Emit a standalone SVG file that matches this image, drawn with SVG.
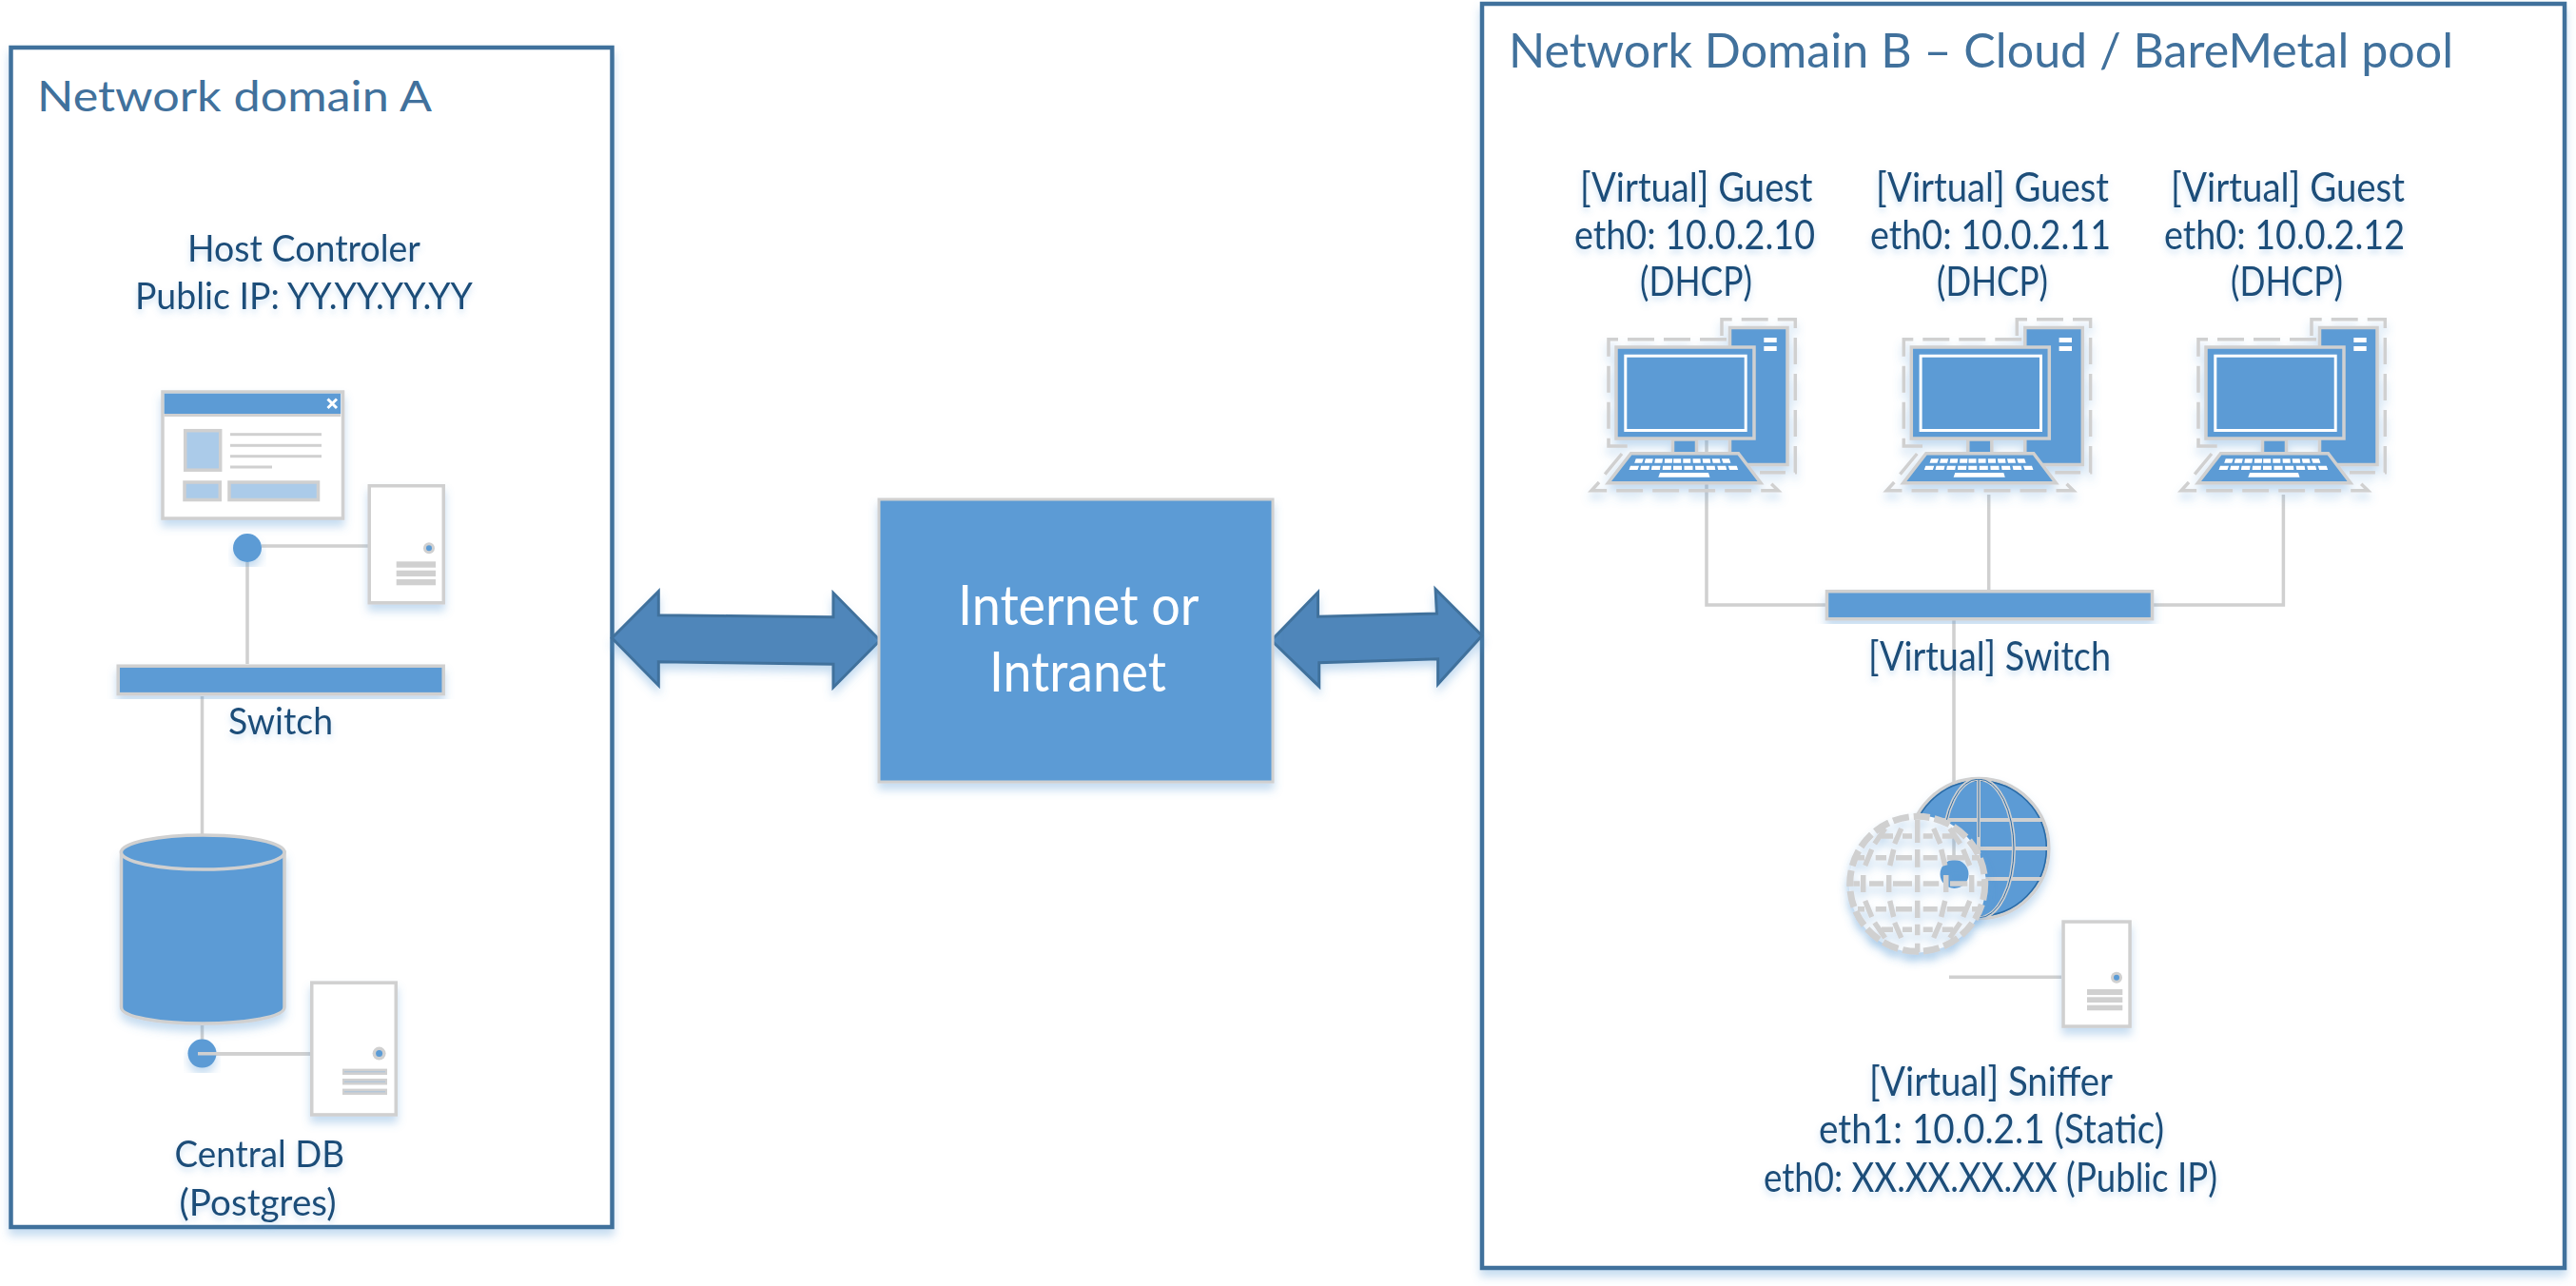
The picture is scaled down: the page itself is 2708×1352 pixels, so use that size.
<svg xmlns="http://www.w3.org/2000/svg" xmlns:xlink="http://www.w3.org/1999/xlink" width="2708" height="1352" viewBox="0 0 2708 1352">
<style>
text{font-family:"Lato","Carlito","Liberation Sans",sans-serif;text-anchor:start}
.lbl{font-size:38px;fill:#1f4e79;filter:url(#ts)}
.lr{font-size:42px;fill:#1f4e79;filter:url(#ts)}
.ttl{font-size:45px;fill:#41719c}
.ttb{font-size:51px;fill:#41719c}
.big{font-size:58px;fill:#fff;font-weight:400}
.dom{fill:#fff;stroke:#41719c;stroke-width:4.5;filter:url(#sh)}
.gl{fill:none;stroke:#d0d0d0;stroke-width:3.5}
.gb{fill:#5b9bd5;stroke:#d0d0d0;stroke-width:3.5}
.gw{fill:#fff;stroke:#d0d0d0;stroke-width:3.5}
.gm{fill:#abcbe9;stroke:#d0d0d0;stroke-width:3.5}
.bar{fill:#d0d0d0}
.blue{fill:#5b9bd5}
.dash{fill:none;stroke:#d0d0d0;stroke-width:3.5;stroke-dasharray:28 10}
.arrow{fill:#4f86ba;stroke:#41719c;stroke-width:3;stroke-linejoin:miter;filter:url(#sh)}
.sh{filter:url(#sh)}
</style>
<defs>
<filter id="sh" x="-15%" y="-15%" width="130%" height="130%"><feDropShadow dx="0" dy="7" stdDeviation="5" flood-color="#5b9bd5" flood-opacity="0.35"/></filter>
<filter id="ts" x="-10%" y="-30%" width="120%" height="170%"><feDropShadow dx="0" dy="4" stdDeviation="3" flood-color="#5b9bd5" flood-opacity="0.3"/></filter>
<g id="computer">
<path class="dash" d="M210,33V15.7H287.3V176.7H250"/>
<path class="dash" d="M215,36.7H91V149H113"/>
<path class="dash" d="M105,157L86,180"/>
<path class="dash" d="M81,187L73,195.7H269.3L260,186.7"/>
<rect class="gb" x="218.5" y="24.5" width="60.5" height="144"/>
<rect x="254.3" y="35" width="13.4" height="5" fill="#fff"/>
<rect x="254.3" y="44" width="13.4" height="5" fill="#fff"/>
<rect class="gb" x="158.5" y="142" width="25" height="16"/>
<rect class="gb" x="99" y="45" width="145" height="96"/>
<rect x="108.8" y="54.2" width="126.4" height="78.3" fill="#5b9bd5" stroke="#fff" stroke-width="3"/>
<path class="gb" d="M114.5,156.8H227.5L251,187.8H90.5Z"/>
<path fill="#fff" d="M119.7,162.3h8l-1.5,4.4h-8zM129.8,162.3h8l-1,4.4h-8zM140,162.3h8l-.7,4.4h-8zM150.1,162.3h8l-.3,4.4h-8zM159.2,162.3h8v4.4h-8zM169.3,162.3h8v4.4h-8zM179.5,162.3h8l.3,4.4h-8zM189.6,162.3h8l.7,4.4h-8zM199.7,162.3h8l1,4.4h-8zM209.9,162.3h8l1.5,4.4h-8z"/>
<path fill="#fff" d="M114,169.7h9l-1.5,4.3h-9zM125.2,169.7h9l-1,4.3h-9zM136.6,169.7h9l-.7,4.3h-9zM148,169.7h9l-.3,4.3h-9zM159,169.7h9v4.3h-9zM170.5,169.7h9v4.3h-9zM182,169.7h9l.3,4.3h-9zM193.6,169.7h9l.7,4.3h-9zM205.2,169.7h9l1,4.3h-9zM216.7,169.7h9l1.5,4.3h-9z"/>
<path fill="#fff" d="M145,177H196L197.5,181.7H143.3Z"/>
</g>
<clipPath id="gc"><circle cx="2080.3" cy="892" r="73"/></clipPath>
</defs>
<rect width="2708" height="1352" fill="#fff"/>

<g id="domain-a">
<rect class="dom" x="11.5" y="50" width="632" height="1240"/>
<text class="ttl" x="39" y="117" textLength="415" lengthAdjust="spacingAndGlyphs">Network domain A</text>
</g>
<g id="domain-b">
<rect class="dom" x="1558" y="4" width="1138" height="1329"/>
<text class="ttb" x="1586" y="71" textLength="993" lengthAdjust="spacingAndGlyphs">Network Domain B – Cloud / BareMetal pool</text>
</g>

<g id="connectors">
<path class="gl" d="M275,574H388M260,591V698M212.5,732V877M212.5,1078V1094M208,1108H327"/>
<path class="gl" d="M1794,463V636H1919M2264,636H2400.4V520M2090.7,520V620M2054,652V830M2049,1027.3H2167"/>
<path class="arrow" d="M643.3,670.7L692.3,621.7V646.7L876,648.7V623.3L925,673.3L876,722.7V698.3L692.3,695.7V720.7Z"/>
<path class="arrow" d="M1336.5,673.3L1385.5,622.7V648.3L1510.4,645L1509,619.3L1558,668.3L1511.6,719.3V692.7L1386.7,696.7V721.7Z"/>
</g>

<g id="host-controller">
<text class="lbl" x="197" y="275" textLength="245" lengthAdjust="spacingAndGlyphs">Host Controler</text>
<text class="lbl" x="142" y="325" textLength="355" lengthAdjust="spacingAndGlyphs">Public IP: YY.YY.YY.YY</text>
<g class="sh">
<rect class="gw" x="171" y="412" width="189.5" height="133"/>
<rect class="blue" x="172.7" y="413.7" width="185.5" height="21.3"/>
<rect class="bar" x="172.7" y="435" width="185.5" height="3"/>
<path d="M344.5,419.5L354,429M354,419.5L344.5,429" stroke="#fff" stroke-width="3" fill="none"/>
<rect class="gm" x="194.7" y="452.7" width="37" height="41.5"/>
<rect class="bar" x="242" y="455.2" width="96" height="3"/>
<rect class="bar" x="242" y="466.8" width="96" height="3"/>
<rect class="bar" x="242" y="478.2" width="96" height="3"/>
<rect class="bar" x="242" y="489.5" width="44" height="3"/>
<rect class="gm" x="194" y="507" width="37.3" height="18.5"/>
<rect class="gm" x="241" y="507" width="93.5" height="18.5"/>
</g>
<circle class="blue sh" cx="260" cy="576" r="15"/>
<g class="sh" transform="translate(386.5,509)"><rect class="gw" x="1.75" y="1.75" width="78" height="123"/></g>
<circle cx="451" cy="576.3" r="6" fill="#d0d0d0"/><circle class="blue" cx="451" cy="576.3" r="3"/>
<rect class="bar" x="416.7" y="590.3" width="41.3" height="6.4"/>
<rect class="bar" x="416.7" y="599.7" width="41.3" height="6.3"/>
<rect class="bar" x="416.7" y="609" width="41.3" height="6.3"/>
</g>

<g id="switch-a">
<rect class="gb sh" x="124.2" y="700.2" width="342" height="29.4"/>
<text class="lbl" x="240" y="772" textLength="110" lengthAdjust="spacingAndGlyphs">Switch</text>
</g>

<g id="central-db">
<path class="gb sh" d="M127.5,896V1059C127.5,1069 166,1076 213,1076S299,1069 299,1059V896Z"/>
<ellipse class="gb" cx="213.2" cy="896" rx="85.8" ry="18"/>
<circle class="blue sh" cx="212.5" cy="1107.6" r="15"/>
<rect class="bar" x="208" y="1106" width="120" height="3.5"/>
<g class="sh" transform="translate(326,1031.4)"><rect class="gw" x="1.75" y="1.75" width="88.5" height="138.8"/></g>
<circle cx="398.6" cy="1107.6" r="7" fill="#d0d0d0"/><circle class="blue" cx="398.6" cy="1107.6" r="3.5"/>
<rect class="bar" x="360" y="1123.6" width="47" height="6.4"/>
<rect class="bar" x="360" y="1134" width="47" height="6.5"/>
<rect class="bar" x="360" y="1144.6" width="47" height="6.4"/>
<path d="M362,1126.8H405M362,1137.2H405M362,1147.8H405" stroke="#a9c3dc" stroke-width="1" fill="none"/>
<text class="lbl" x="183.5" y="1227" textLength="178.5" lengthAdjust="spacingAndGlyphs">Central DB</text>
<text class="lbl" x="188.5" y="1277.5" textLength="165" lengthAdjust="spacingAndGlyphs">(Postgres)</text>
</g>

<g id="internet">
<rect class="sh" x="924" y="525" width="414" height="297" fill="#5b9bd5" stroke="#d0d0d0" stroke-width="3"/>
<text class="big" x="1007" y="656.5" textLength="253.5" lengthAdjust="spacingAndGlyphs">Internet or</text>
<text class="big" x="1040" y="726.5" textLength="186" lengthAdjust="spacingAndGlyphs">Intranet</text>
</g>

<g id="guest-1">
<text class="lr" x="1661" y="212" textLength="244.5" lengthAdjust="spacingAndGlyphs">[Virtual] Guest</text>
<text class="lr" x="1655" y="261.5" textLength="253" lengthAdjust="spacingAndGlyphs">eth0: 10.0.2.10</text>
<text class="lr" x="1724" y="311" textLength="118" lengthAdjust="spacingAndGlyphs">(DHCP)</text>
<use href="#computer" class="sh" transform="translate(1600,320)"/>
</g>
<g id="guest-2">
<text class="lr" x="1972" y="212" textLength="245" lengthAdjust="spacingAndGlyphs">[Virtual] Guest</text>
<text class="lr" x="1966" y="261.5" textLength="253" lengthAdjust="spacingAndGlyphs">eth0: 10.0.2.11</text>
<text class="lr" x="2036" y="311" textLength="117" lengthAdjust="spacingAndGlyphs">(DHCP)</text>
<use href="#computer" class="sh" transform="translate(1910.3,320)"/>
</g>
<g id="guest-3">
<text class="lr" x="2282" y="212" textLength="246" lengthAdjust="spacingAndGlyphs">[Virtual] Guest</text>
<text class="lr" x="2275" y="261.5" textLength="253" lengthAdjust="spacingAndGlyphs">eth0: 10.0.2.12</text>
<text class="lr" x="2345" y="311" textLength="118" lengthAdjust="spacingAndGlyphs">(DHCP)</text>
<use href="#computer" class="sh" transform="translate(2220,320)"/>
</g>

<g id="switch-b">
<rect class="gb sh" x="1920.5" y="621.7" width="342" height="29"/>
<text class="lr" x="1964" y="705" textLength="255" lengthAdjust="spacingAndGlyphs">[Virtual] Switch</text>
</g>

<g id="sniffer">
<g class="sh">
<circle cx="2080.3" cy="892" r="73.5" fill="#5b9bd5" stroke="#d0d0d0" stroke-width="3.5"/>
<circle cx="2080.3" cy="892" r="71" fill="none" stroke="#2a6aa5" stroke-width="1.5"/>
<g clip-path="url(#gc)" fill="none" stroke="#d0d0d0" stroke-width="4">
<ellipse cx="2080" cy="892" rx="37" ry="73"/>
<path d="M2080,818V966M2000,862H2160M2000,892H2160M2000,924H2160"/>
</g>
<g clip-path="url(#gc)" fill="none" stroke="#2a6aa5" stroke-width="1">
<ellipse cx="2080" cy="892" rx="37" ry="73"/>
<path d="M2080,818V880"/>
</g>
</g>
<g class="sh">
<circle cx="2015.7" cy="929.3" r="72" fill="#fff"/>
</g>
<path class="gl" d="M2054,880V905"/>
<circle class="blue" cx="2054.5" cy="919" r="15"/>
<g fill="none" stroke="#d0d0d0" class="sh">
<circle cx="2015.7" cy="929.3" r="71" stroke-width="7" stroke-dasharray="17 5"/>
<g stroke-width="5.5">
<path d="M2015.7,862V886M2015.7,893V911.7M2015.7,920V938M2015.7,946.7V965M2015.7,971.7V983.3M2015.7,991.7V1001"/>
<path d="M1948.3,929H1955M1965,929H1980M1990,929H2010M2021.7,929H2038.3M2050,929H2068.3M2078.3,929H2085"/>
<path d="M1953,901.7H1960M1971.7,901.7H1983M1993,901.7H2010M2021.7,901.7H2036.7M2046.7,901.7H2065M2073,901.7H2081.7"/>
<path d="M1953,955.7H1960M1971.7,955.7H1983M1993,955.7H2010M2021.7,955.7H2036.7M2046.7,955.7H2065M2073,955.7H2081.7"/>
<path d="M1978,879H1990M2000,879H2010M2021.7,879H2031.7M2041.7,879H2053.3"/>
<path d="M1978,977.3H1990M2000,977.3H2010M2021.7,977.3H2031.7M2041.7,977.3H2053.3"/>
<path d="M1985.7,920V938M2045.7,920V938M1990.7,893L1986.7,910M2040.7,893L2044.7,910M1986.7,947L1990.7,964M2044.7,947L2040.7,964M1998.7,871L1991.7,887M2032.7,871L2039.7,887M1991.7,970L1998.7,986M2039.7,970L2032.7,986"/>
<path d="M1958.7,920V938M2072.7,920V938M1967.7,893L1960.7,910M2063.7,893L2070.7,910M1960.7,947L1967.7,964M2070.7,947L2063.7,964M1981.7,871L1970.7,887M2049.7,871L2060.7,887M1970.7,970L1981.7,986M2060.7,970L2049.7,986"/>
</g>
</g>
<g class="sh" transform="translate(2167.3,967.3)"><rect class="gw" x="1.75" y="1.75" width="70" height="110"/></g>
<circle cx="2225" cy="1027.7" r="6" fill="#d0d0d0"/><circle class="blue" cx="2225" cy="1027.7" r="3"/>
<rect class="bar" x="2194" y="1040" width="37.3" height="6"/>
<rect class="bar" x="2194" y="1048.3" width="37.3" height="5.7"/>
<rect class="bar" x="2194" y="1056.7" width="37.3" height="5.6"/>
<text class="lr" x="1965" y="1151.5" textLength="256" lengthAdjust="spacingAndGlyphs">[Virtual] Sniffer</text>
<text class="lr" x="1912" y="1201.5" textLength="363" lengthAdjust="spacingAndGlyphs">eth1: 10.0.2.1 (Static)</text>
<text class="lr" x="1854" y="1253" textLength="477" lengthAdjust="spacingAndGlyphs">eth0: XX.XX.XX.XX (Public IP)</text>
</g>
</svg>
